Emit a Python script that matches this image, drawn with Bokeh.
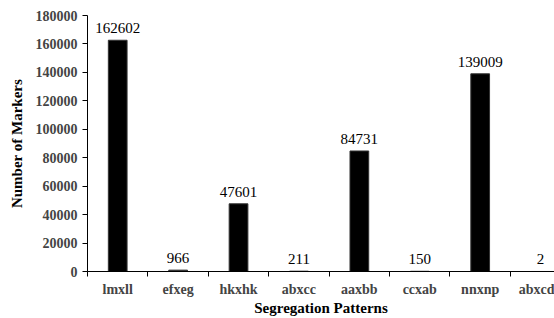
from bokeh.plotting import figure
from bokeh.models import ColumnDataSource, FixedTicker, Range1d, LabelSet, BasicTickFormatter
from bokeh.embed import file_html
from bokeh.resources import INLINE

categories = ["lmxll", "efxeg", "hkxhk", "abxcc", "aaxbb", "ccxab", "nnxnp", "abxcd"]
markers = [162602, 966, 47601, 211, 84731, 150, 139009, 2]
y_ticks = [0, 20000, 40000, 60000, 80000, 100000, 120000, 140000, 160000, 180000]

xs = [i + 0.5 for i in range(len(categories))]
src = ColumnDataSource(dict(x=xs, top=markers, lab=[str(v) for v in markers], cat=categories))

FONT = "Liberation Serif"

p = figure(width=554, height=318, output_backend="svg", toolbar_location=None,
           x_range=Range1d(0, 7.73), y_range=Range1d(0, 180000),
           min_border_left=87, min_border_right=0, min_border_top=15, min_border_bottom=44)
p.outline_line_color = None
p.xgrid.grid_line_color = None
p.ygrid.grid_line_color = None
p.background_fill_color = "white"

p.vbar(x="x", top="top", width=0.31, source=src, fill_color="black", line_color="#333333", line_width=1)

labels = LabelSet(x="x", y="top", text="lab", source=src, text_align="center", text_baseline="bottom",
                  y_offset=7, text_font=FONT, text_font_size="15px", text_color="black")
p.add_layout(labels)

xa = p.xaxis[0]
xa.ticker = FixedTicker(ticks=xs, minor_ticks=list(range(0, 9)))
xa.major_label_overrides = {x: c for x, c in zip(xs, categories)}
xa.major_tick_line_color = None
xa.major_tick_out = 0
xa.major_tick_in = 0
xa.minor_tick_line_color = "black"
xa.minor_tick_out = 5
xa.minor_tick_in = 0
xa.major_label_standoff = 5
xa.major_label_text_font = FONT
xa.major_label_text_font_style = "bold"
xa.major_label_text_font_size = "14px"
xa.axis_label = "Segregation Patterns"
xa.axis_label_text_font = FONT
xa.axis_label_text_font_style = "bold"
xa.axis_label_text_font_size = "15px"
xa.axis_label_text_color = "black"
xa.axis_label_standoff = 0
xa.axis_line_color = "black"

ya = p.yaxis[0]
ya.ticker = FixedTicker(ticks=y_ticks, minor_ticks=[])
ya.formatter = BasicTickFormatter(use_scientific=False)
ya.major_tick_out = 5
ya.major_tick_in = 0
ya.major_label_standoff = 5
ya.major_label_text_font = FONT
ya.major_label_text_font_style = "bold"
ya.major_label_text_font_size = "14px"
ya.axis_label = "Number of Markers"
ya.axis_label_text_font = FONT
ya.axis_label_text_font_style = "bold"
ya.axis_label_text_font_size = "15px"
ya.axis_label_text_color = "black"
ya.axis_label_standoff = 8
ya.axis_line_color = "black"

open("out.html", "w").write(file_html(p, INLINE))
